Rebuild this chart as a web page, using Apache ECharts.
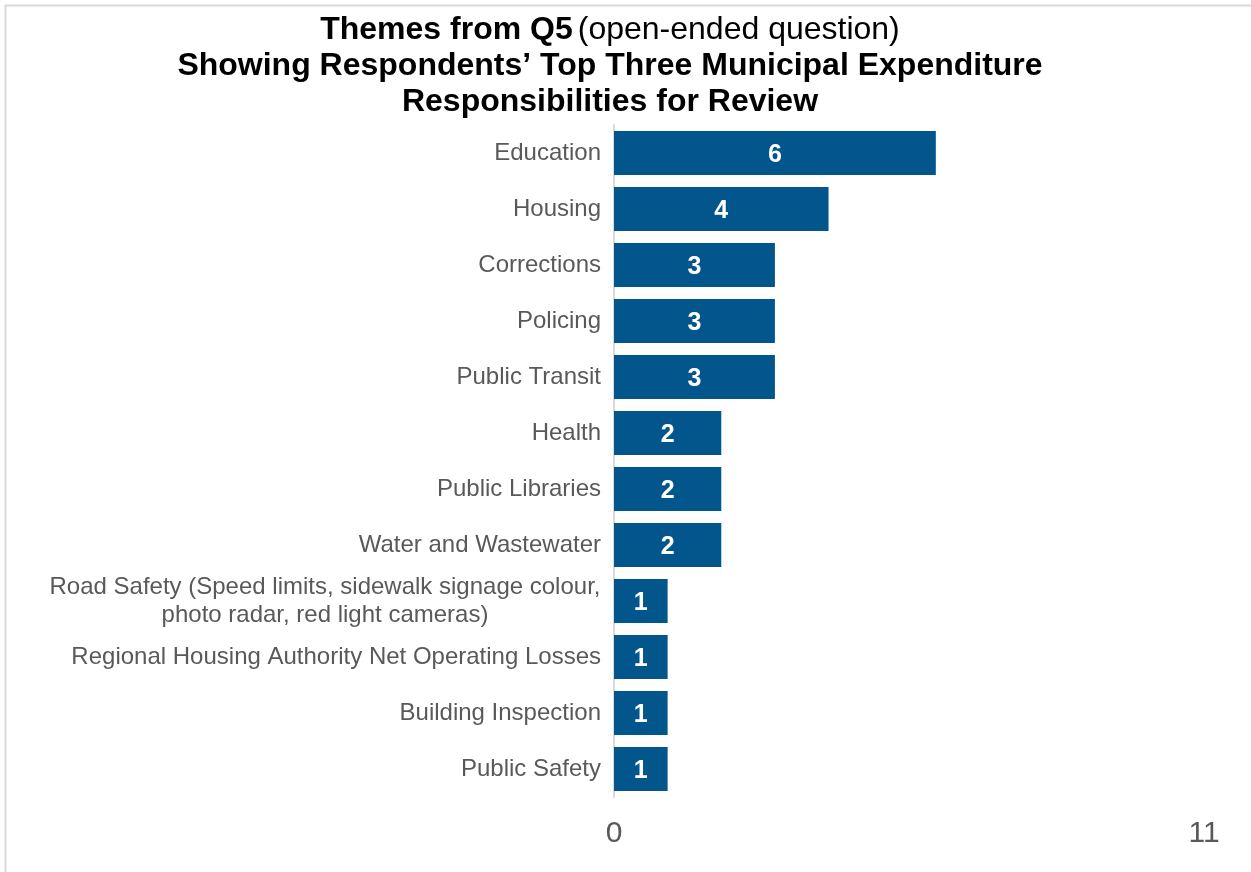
<!DOCTYPE html>
<html>
<head>
<meta charset="utf-8">
<script src="https://cdn.jsdelivr.net/npm/echarts@6/dist/echarts.min.js"></script>
<style>
  html, body { margin: 0; padding: 0; background: #ffffff; }
  #chart { width: 1251px; height: 872px; }
</style>
</head>
<body>
<div id="chart"></div>
<script>
// Themes listed top to bottom
const categories = [
  'Education',
  'Housing',
  'Corrections',
  'Policing',
  'Public Transit',
  'Health',
  'Public Libraries',
  'Water and Wastewater',
  'Road Safety (Speed limits, sidewalk signage colour,\nphoto radar, red light cameras)',
  'Regional Housing Authority Net Operating Losses',
  'Building Inspection',
  'Public Safety'
];
const counts = [6, 4, 3, 3, 3, 2, 2, 2, 1, 1, 1, 1];
const axisMin = 0;
const axisMax = 11;

const FONT = '"Liberation Sans", Arial, sans-serif';
const BAR = '#02568B';
const GREY = '#595959';

const chart = echarts.init(document.getElementById('chart'));

chart.setOption({
  animation: false,
  backgroundColor: '#ffffff',
  title: {
    left: 610,
    top: 12,
    padding: 0,
    textAlign: 'center',
    text: '{b|Themes from Q5} {n|(open-ended question)}\n{b|Showing Respondents’ Top Three Municipal Expenditure}\n{b|Responsibilities for Review}',
    textStyle: {
      fontFamily: FONT,
      color: '#000000',
      rich: {
        b: { fontFamily: FONT, fontSize: 32, fontWeight: 'bold', color: '#000000', lineHeight: 36 },
        n: { fontFamily: FONT, fontSize: 32, fontWeight: 'normal', color: '#000000', lineHeight: 36 }
      }
    }
  },
  // outer frame, open on the right and bottom edges
  graphic: [{
    type: 'rect',
    silent: true,
    shape: { x: 5.5, y: 5.5, width: 1270, height: 890 },
    style: { fill: 'none', stroke: '#d9d9d9', lineWidth: 2 }
  }],
  grid: { left: 614, right: 47, top: 125, bottom: 75, containLabel: false },
  xAxis: {
    type: 'value',
    min: axisMin,
    max: axisMax,
    interval: 11,
    splitLine: { show: false },
    axisLine: { show: false },
    axisTick: { show: false },
    axisLabel: { fontFamily: FONT, fontSize: 30, color: GREY, margin: 22 }
  },
  yAxis: {
    type: 'category',
    inverse: true,
    data: categories,
    axisLine: { show: true, lineStyle: { color: '#d9d9d9', width: 2 } },
    axisTick: { show: false },
    axisLabel: {
      fontFamily: FONT,
      fontSize: 24,
      color: GREY,
      margin: 13,
      lineHeight: 28,
      formatter: function (v) {
        return v.indexOf('\n') >= 0 ? '{w|' + v + '}' : v;
      },
      rich: {
        w: { fontFamily: FONT, fontSize: 24, color: GREY, lineHeight: 28, width: 552, align: 'center' }
      }
    }
  },
  series: [{
    type: 'bar',
    data: counts,
    barCategoryGap: '21%',
    itemStyle: { color: BAR },
    label: {
      show: true,
      position: 'inside',
      offset: [0, 2],
      fontFamily: FONT,
      fontSize: 25,
      fontWeight: 'bold',
      color: '#ffffff'
    }
  }]
});
</script>
</body>
</html>
